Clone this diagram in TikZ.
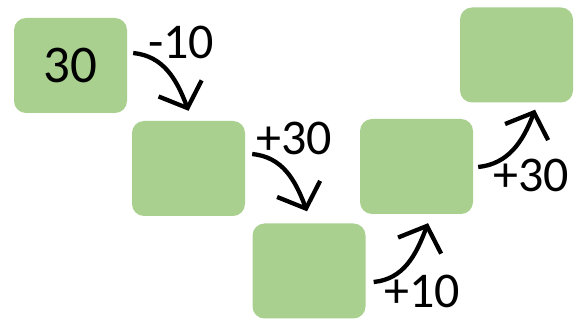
\documentclass[tikz,border=0pt]{standalone}
\usepackage{fontspec}
\setmainfont{Carlito}
\usetikzlibrary{arrows.meta,calc}
\definecolor{boxgreen}{HTML}{A9D08E}
\tikzset{
  numbox/.style={rectangle, rounded corners=12pt, fill=boxgreen, draw=none,
    minimum width=113pt, minimum height=95pt, inner sep=0pt,
    font=\fontsize{53}{53}\selectfont},
  steplabel/.style={inner sep=0pt, font=\fontsize{50}{50}\selectfont},
  jump/.style={line width=4.3pt, -{Straight Barb[length=21pt,width=46pt]}}
}
\begin{document}
\begin{tikzpicture}[x=1pt,y=-1pt]
\useasboundingbox[fill=white] (0,0) rectangle (579,320);
\node[numbox] (b1) at (70.5,65.5) {30};
\node[numbox] (b2) at (188.5,168.5) {};
\node[numbox] (b3) at (309,271) {};
\node[numbox] (b4) at (416.5,166.5) {};
\node[numbox] (b5) at (516.5,55) {};
\node[steplabel] (l1) at (181,42) {-10};
\node[steplabel] (l2) at (294,138) {+30};
\node[steplabel] (l3) at (422,291) {+10};
\node[steplabel] (l4) at (531,175) {+30};
\draw[jump] ($(b1.east)+(6,-12.5)$) .. controls +(30,3) and +(-12,-32) .. ($(b2.north)+(0,-10)$);
\draw[jump] ($(b2.east)+(7,-14.5)$) .. controls +(30,3) and +(-12,-32) .. ($(b3.north)+(-2,-12)$);
\draw[jump] ($(b3.east)+(8,11)$) .. controls +(30,-3) and +(-12,32) .. ($(b4.south)+(11.5,9)$);
\draw[jump] ($(b4.east)+(5,0.5)$) .. controls +(30,-3) and +(-12,32) .. ($(b5.south)+(18.5,7)$);
\end{tikzpicture}
\end{document}
